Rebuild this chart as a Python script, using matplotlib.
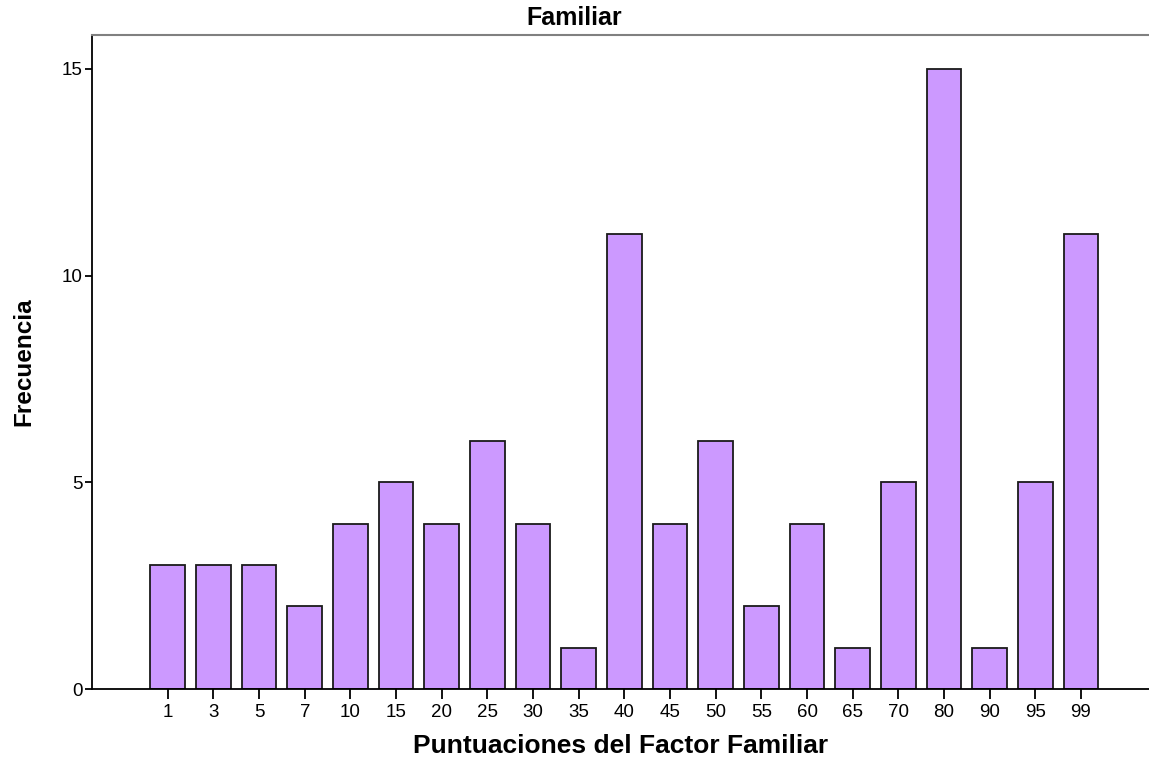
import matplotlib.pyplot as plt

# Puntuaciones (categorias) y frecuencias
puntuaciones = ["1", "3", "5", "7", "10", "15", "20", "25", "30", "35", "40",
                "45", "50", "55", "60", "65", "70", "80", "90", "95", "99"]
frecuencias = [3, 3, 3, 2, 4, 5, 4, 6, 4, 1, 11, 4, 6, 2, 4, 1, 5, 15, 1, 5, 11]

plt.rcParams['font.family'] = ['Liberation Sans', 'DejaVu Sans']

fig = plt.figure(figsize=(11.49, 7.61), dpi=100)
ax = fig.add_axes([92 / 1149, 72 / 761, 1 - 92 / 1149, (689 - 35) / 761])

pos = list(range(len(puntuaciones)))
ax.bar(pos, frecuencias, width=0.76, color="#CC99FF", edgecolor="#1a1a1a", linewidth=1.3)

ax.set_xlim(-1.66, 21.49)
ax.set_ylim(0, 15.82)
ax.set_xticks(pos)
ax.set_xticklabels(puntuaciones, fontsize=13.5)
ax.set_yticks([0, 5, 10, 15])
ax.set_yticklabels(["0", "5", "10", "15"], fontsize=13.5)
ax.tick_params(axis="x", direction="out", length=7, width=1.3, pad=4)
ax.tick_params(axis="y", direction="out", length=5, width=1.3, pad=2)

ax.spines["right"].set_visible(False)
ax.spines["top"].set_color("#808080")
ax.spines["top"].set_linewidth(1.5)
ax.spines["left"].set_linewidth(1.3)
ax.spines["bottom"].set_linewidth(1.3)

ax.set_xlabel("Puntuaciones del Factor Familiar", fontsize=19, fontweight="bold", labelpad=9)
ax.set_ylabel("Frecuencia", fontsize=17.5, fontweight="bold", labelpad=19)
fig.text(0.5, 0.977, "Familiar", ha="center", va="center", fontsize=18, fontweight="bold")

fig.savefig("out.png", dpi=100)
